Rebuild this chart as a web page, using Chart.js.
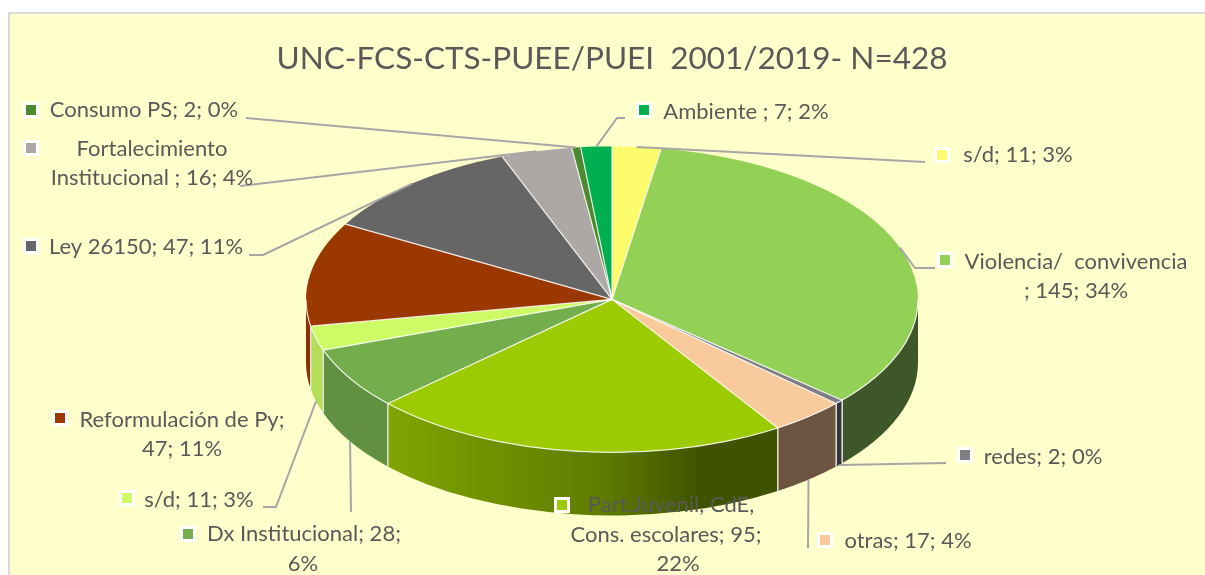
<!DOCTYPE html>
<html>
<head>
<meta charset="utf-8">
<title>UNC-FCS-CTS-PUEE/PUEI</title>
<script src="https://cdn.jsdelivr.net/npm/chart.js@4/dist/chart.umd.min.js"></script>
<style>
  html, body { margin: 0; padding: 0; background: #fff; }
  canvas { display: block; }
</style>
</head>
<body>
<canvas id="chart" width="1205" height="575"></canvas>
<script>
// Values, clockwise from twelve o'clock
var chartTitle = 'UNC-FCS-CTS-PUEE/PUEI  2001/2019- N=428';
var categories = ['s/d', 'Violencia/  convivencia ', 'redes', 'otras', 'Part.Juvenil, CdE, Cons. escolares',
    'Dx Institucional', 's/d', 'Reformulación de Py', 'Ley 26150', 'Fortalecimiento Institucional ',
    'Consumo PS', 'Ambiente '];
var values = [11, 145, 2, 17, 95, 28, 11, 47, 47, 16, 2, 7];
var percents = ['3%', '34%', '0%', '4%', '22%', '6%', '3%', '11%', '11%', '4%', '0%', '2%'];

var topColors = ['#fbfb6b', '#93d156', '#7f7f85', '#f9cb9c', '#9bcb00', '#74ad4b', '#ccfb66', '#9a3800',
    '#666666', '#aca8a6', '#4d8a2f', '#00b050'];
var sideColors = ['#a5a545', '#3e5728', '#35333d', '#6d5440', null, '#5f9140', '#b4dd5a', '#8a2f00',
    '#444444', '#777777', '#33601f', '#007a38'];

// Where each data label goes: lines of text, x/y of each line centre, key square, leader elbows
var labelLayout = [
    { key: [942, 155], lines: [[1018, 155]], elbows: [[925, 162]] },
    { key: [945, 260], lines: [[1076, 262], [1076, 291]], elbows: [[915, 268], [935, 268]], split: 1 },
    { key: [965, 455], lines: [[1043, 457]], elbows: [[946, 463]] },
    { key: [825, 540], lines: [[908, 541]], elbows: [[808, 548]] },
    { key: [562, 505], lines: [[671, 505], [666, 535], [678, 564]], elbows: [], split: 2 },
    { key: [188, 534], lines: [[304, 534], [303, 564]], elbows: [[351, 512]], split: 3 },
    { key: [127, 498], lines: [[199, 500]], elbows: [[276, 507], [263, 507]] },
    { key: [60, 418], lines: [[182, 420], [182, 449]], elbows: [], split: 4 },
    { key: [31, 246], lines: [[146, 247]], elbows: [[263, 255], [249, 255]] },
    { key: [31, 148], lines: [[152, 149], [152, 178]], elbows: [[240, 186]], split: 5 },
    { key: [31, 110], lines: [[144, 110]], elbows: [[246, 118]] },
    { key: [644, 110], lines: [[746, 112]], elbows: [[617, 118], [625, 118]] }
];

var textColor = '#595959';
var lineColor = '#a6a6a6';
var fontFamily = 'Lato, "Open Sans", sans-serif';
var squash = 2; // pie is drawn round by the library, then stretched sideways
var depth = 63;

function labelLines(i) {
    var tail = values[i] + '; ' + percents[i];
    switch (labelLayout[i].split) {
        case 1: return [categories[i].trim(), '; ' + tail];
        case 2: return ['Part.Juvenil, CdE,', 'Cons. escolares; ' + values[i] + ';', percents[i]];
        case 3: return [categories[i] + '; ' + values[i] + ';', percents[i]];
        case 4: return [categories[i] + ';', tail];
        case 5: return ['Fortalecimiento', 'Institucional ; ' + tail];
        default: return [categories[i] + '; ' + tail];
    }
}

function rimPoint(arc, angle, lowered) {
    return {
        x: arc.x + arc.outerRadius * squash * Math.cos(angle),
        y: arc.y + arc.outerRadius * Math.sin(angle) + (lowered ? depth : 0)
    };
}

var pie3d = {
    id: 'pie3d',
    beforeDraw: function (chart) {
        var ctx = chart.ctx;
        ctx.save();
        ctx.fillStyle = '#ffffff';
        ctx.fillRect(0, 0, chart.width, chart.height);
        ctx.fillStyle = '#ffffcc';
        ctx.strokeStyle = '#d9d9d9';
        ctx.lineWidth = 2;
        ctx.fillRect(9, 13, 1196, 562);
        ctx.beginPath();
        ctx.moveTo(9, 575);
        ctx.lineTo(9, 13);
        ctx.lineTo(1205, 13);
        ctx.stroke();
        ctx.restore();
    },
    beforeDatasetsDraw: function (chart) {
        var ctx = chart.ctx;
        var arcs = chart.getDatasetMeta(0).data;
        var first = arcs[0];
        ctx.save();
        arcs.forEach(function (arc, i) {
            var a0 = Math.max(arc.startAngle, 0);
            var a1 = Math.min(arc.endAngle, Math.PI);
            if (a1 <= a0) {
                return;
            }
            var rx = arc.outerRadius * squash, ry = arc.outerRadius;
            ctx.beginPath();
            ctx.ellipse(arc.x, arc.y, rx, ry, 0, a0, a1);
            ctx.ellipse(arc.x, arc.y + depth, rx, ry, 0, a1, a0, true);
            ctx.closePath();
            if (sideColors[i]) {
                ctx.fillStyle = sideColors[i];
            } else {
                // the big front slice fades from olive into dark
                var p0 = rimPoint(arc, a1), p1 = rimPoint(arc, a0);
                var grad = ctx.createLinearGradient(p0.x, 0, p1.x, 0);
                grad.addColorStop(0, '#80a400');
                grad.addColorStop(0.55, '#5f7c00');
                grad.addColorStop(0.8, '#405200');
                grad.addColorStop(1, '#3f5200');
                ctx.fillStyle = grad;
            }
            ctx.fill();
        });
        // lines between the front walls
        ctx.strokeStyle = '#e4e4d4';
        ctx.lineWidth = 1.5;
        arcs.forEach(function (arc) {
            if (arc.startAngle > 0 && arc.startAngle < Math.PI) {
                var p = rimPoint(arc, arc.startAngle);
                ctx.beginPath();
                ctx.moveTo(p.x, p.y);
                ctx.lineTo(p.x, p.y + depth);
                ctx.stroke();
            }
        });
        ctx.restore();
        // stretch the round pie the library draws into the tilted ellipse
        ctx.save();
        ctx.translate(first.x, first.y);
        ctx.scale(squash, 1);
        ctx.translate(-first.x, -first.y);
    },
    afterDatasetsDraw: function (chart) {
        var ctx = chart.ctx;
        var arcs = chart.getDatasetMeta(0).data;
        ctx.restore();
        ctx.save();

        // slice borders on the top face
        ctx.strokeStyle = 'rgba(255,255,255,0.85)';
        ctx.lineWidth = 1.2;
        arcs.forEach(function (arc) {
            var p = rimPoint(arc, arc.startAngle);
            ctx.beginPath();
            ctx.moveTo(arc.x, arc.y);
            ctx.lineTo(p.x, p.y);
            ctx.stroke();
        });
        var a = arcs[0];
        ctx.beginPath();
        ctx.ellipse(a.x, a.y, a.outerRadius * squash, a.outerRadius, 0, 0, Math.PI);
        ctx.stroke();

        // leader lines, ending on the rim at the middle of each slice
        ctx.strokeStyle = lineColor;
        ctx.lineWidth = 2;
        ctx.lineJoin = 'round';
        arcs.forEach(function (arc, i) {
            var elbows = labelLayout[i].elbows;
            if (!elbows.length) {
                return;
            }
            var mid = (arc.startAngle + arc.endAngle) / 2;
            var end = rimPoint(arc, mid, Math.sin(mid) > 0);
            ctx.beginPath();
            ctx.moveTo(end.x, end.y);
            elbows.forEach(function (pt) {
                ctx.lineTo(pt[0], pt[1]);
            });
            ctx.stroke();
        });

        // data labels with their white-framed key squares
        ctx.font = '22px ' + fontFamily;
        ctx.textAlign = 'center';
        ctx.textBaseline = 'middle';
        labelLayout.forEach(function (item, i) {
            ctx.fillStyle = '#ffffff';
            ctx.fillRect(item.key[0] - 8, item.key[1] - 8, 16, 16);
            ctx.fillStyle = topColors[i];
            ctx.fillRect(item.key[0] - 5, item.key[1] - 5, 10, 10);
            ctx.fillStyle = textColor;
            labelLines(i).forEach(function (text, n) {
                ctx.fillText(text, item.lines[n][0], item.lines[n][1]);
            });
        });
        ctx.restore();
    }
};

new Chart(document.getElementById('chart'), {
    type: 'pie',
    data: {
        labels: categories,
        datasets: [{
            data: values,
            backgroundColor: topColors,
            borderWidth: 0
        }]
    },
    plugins: [pie3d],
    options: {
        responsive: false,
        animation: false,
        events: [],
        radius: 153,
        layout: { padding: { left: 19, bottom: 54 } },
        plugins: {
            legend: { display: false },
            tooltip: { enabled: false },
            title: {
                display: true,
                text: chartTitle,
                fullSize: false,
                color: textColor,
                font: { family: fontFamily, size: 31.5, weight: 'normal' },
                padding: { top: 40, bottom: 0 }
            }
        }
    }
});
</script>
</body>
</html>
